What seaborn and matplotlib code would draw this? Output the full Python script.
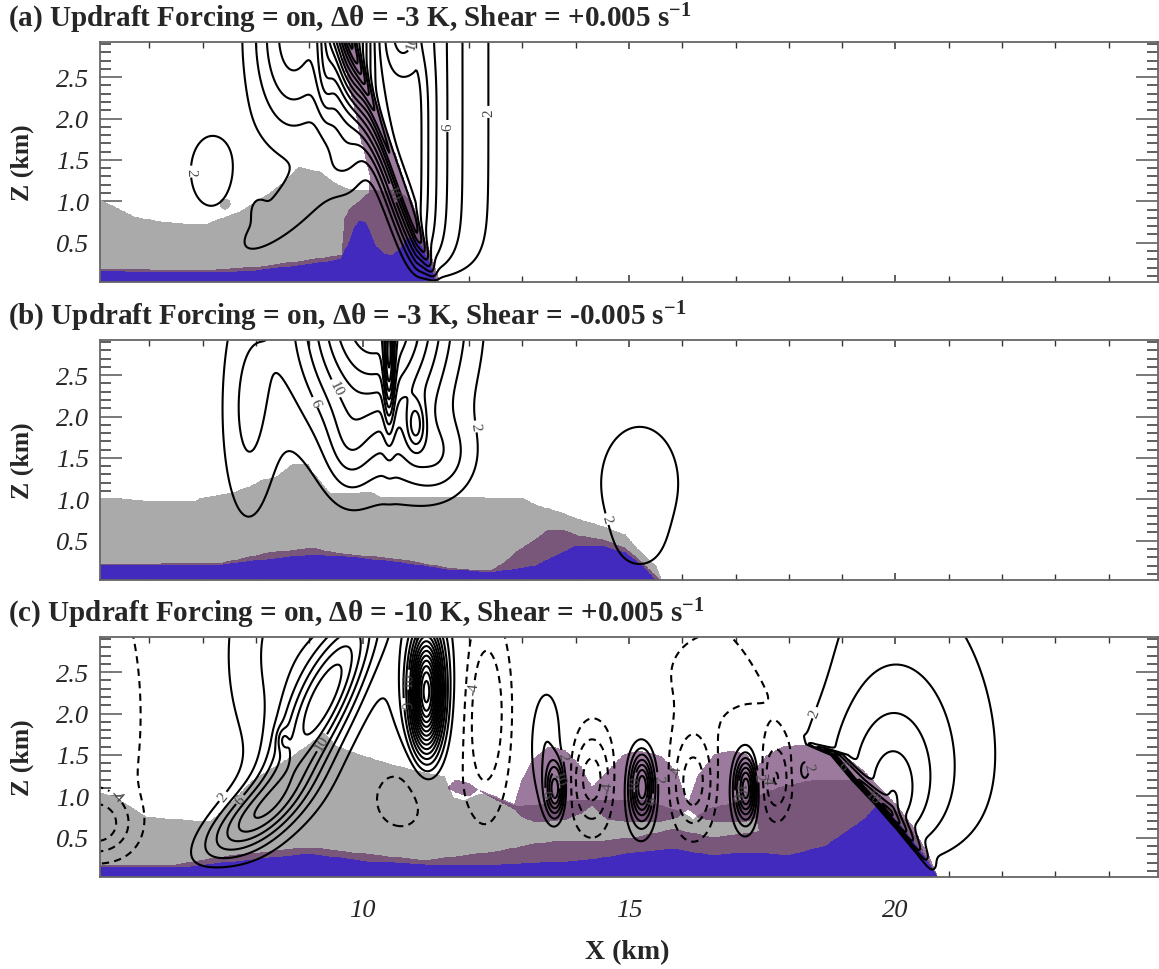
import numpy as np
import matplotlib
matplotlib.use("Agg")
import matplotlib.pyplot as plt
from matplotlib.ticker import MultipleLocator, FixedLocator
import seaborn as sns

sns.set_theme(style="ticks")
plt.rcParams["font.family"] = ["Liberation Serif", "DejaVu Serif"]
plt.rcParams["mathtext.fontset"] = "custom"
plt.rcParams["mathtext.rm"] = "Liberation Serif"
plt.rcParams["mathtext.bf"] = "Liberation Serif:bold"
plt.rcParams["mathtext.it"] = "Liberation Serif:italic"

GRAY = "#AAAAAA"
PURPLE = "#551D59"
PURPLE_ALPHA = 0.59
BLUE = "#422ABE"

titles = [
    r"(a) Updraft Forcing = on, Δθ = -3 K, Shear = +0.005 s$^{\mathbf{-1}}$",
    r"(b) Updraft Forcing = on, Δθ = -3 K, Shear = -0.005 s$^{\mathbf{-1}}$",
    r"(c) Updraft Forcing = on, Δθ = -10 K, Shear = +0.005 s$^{\mathbf{-1}}$",
]

# ---------------- panel (a): cloud / rain / cold-pool outlines (km) ----------------
a_gray_x = [5.07, 5.35, 5.7, 6.2, 6.6, 7.1, 7.7, 8.2, 8.6, 8.8, 9.2, 9.5, 9.7, 10.0, 10.3, 10.7, 10.9, 11.0, 11.1, 11.2, 11.3, 11.38]
a_gray_z = [1.01, 0.93, 0.81, 0.75, 0.73, 0.73, 0.87, 1.07, 1.27, 1.41, 1.35, 1.21, 1.15, 1.13, 1.12, 1.10, 1.0, 0.82, 0.64, 0.45, 0.26, 0.05]
a_gray_patch = [7.42, 0.97, 0.1, 0.06]  # detached cloud fragment: x, z, half-width, half-height
a_purple_low_x = [5.07, 6.0, 7.0, 8.0, 8.8, 9.3, 9.65]
a_purple_low_z = [0.18, 0.17, 0.16, 0.20, 0.27, 0.32, 0.35]
a_purple_band_z = [0.02, 0.25, 0.5, 0.8, 0.9, 1.0, 1.1, 1.3, 1.6, 2.0, 2.4, 2.95]
a_purple_band_xl = [9.63, 9.63, 9.64, 9.68, 9.75, 9.95, 10.12, 10.15, 10.03, 9.9, 9.75, 9.58]
a_purple_band_xr = [11.45, 11.33, 11.19, 11.02, 10.97, 10.91, 10.86, 10.75, 10.59, 10.37, 10.15, 9.86]
a_blue_x = [5.07, 6.0, 7.0, 8.0, 8.8, 9.3, 9.6, 9.75, 9.85, 9.95, 10.05, 10.15, 10.25, 10.4, 10.55, 10.7, 10.85, 10.95, 11.1, 11.25, 11.37]
a_blue_z = [0.16, 0.14, 0.13, 0.16, 0.22, 0.26, 0.30, 0.50, 0.68, 0.76, 0.74, 0.60, 0.45, 0.36, 0.34, 0.42, 0.55, 0.55, 0.45, 0.25, 0.02]

# ---------------- panel (b) ----------------
b_gray_x = [5.07, 5.87, 6.88, 6.96, 7.55, 7.88, 8.13, 8.39, 8.68, 8.97, 9.06, 9.22, 9.39, 9.81, 10.14, 10.31, 11.57, 13.0, 13.24, 13.66, 14.08, 14.5, 14.92, 15.17, 15.5, 15.62]
b_gray_z = [1.02, 0.98, 0.98, 1.01, 1.07, 1.15, 1.23, 1.27, 1.42, 1.43, 1.32, 1.20, 1.07, 1.07, 1.09, 1.03, 1.03, 1.01, 0.93, 0.85, 0.75, 0.67, 0.57, 0.39, 0.19, 0.0]
b_purple_x = [5.07, 7.38, 8.22, 9.06, 9.48, 10.73, 11.57, 12.4, 12.66, 12.91, 13.24, 13.5, 13.75, 14.08, 14.5, 14.92, 15.25, 15.5, 15.6]
b_purple_z = [0.21, 0.23, 0.35, 0.41, 0.35, 0.27, 0.17, 0.13, 0.23, 0.37, 0.51, 0.63, 0.63, 0.55, 0.51, 0.41, 0.23, 0.07, 0.0]
b_blue_x = [5.07, 7.38, 8.22, 9.06, 9.9, 10.73, 11.57, 12.4, 13.24, 13.75, 14.0, 14.5, 14.92, 15.25, 15.42, 15.5]
b_blue_z = [0.20, 0.21, 0.27, 0.33, 0.29, 0.23, 0.15, 0.11, 0.19, 0.35, 0.43, 0.43, 0.35, 0.19, 0.07, 0.0]

# ---------------- panel (c) ----------------
c_gray_x = [5.07, 5.35, 5.93, 6.8, 7.16, 7.52, 7.96, 8.69, 9.05, 9.27, 9.49, 9.85, 10.43, 11.16, 11.52, 11.62, 11.7, 11.9, 12.24, 12.6, 12.9, 13.3, 14.0, 14.6, 15.3, 16.0, 16.2, 16.5, 17.2, 17.8, 18.5, 19.2, 19.7, 20.2, 20.8]
c_gray_z = [1.04, 0.99, 0.75, 0.70, 0.70, 0.91, 1.20, 1.48, 1.65, 1.77, 1.61, 1.52, 1.40, 1.28, 1.24, 1.10, 0.98, 0.95, 1.03, 0.95, 0.87, 0.90, 0.95, 0.95, 0.95, 0.80, 0.72, 0.85, 0.95, 1.10, 1.20, 1.20, 1.0, 0.70, 0.0]
c_purple_low_x = [5.07, 6.5, 7.5, 8.98, 10.07, 11.16, 12.6, 13.2, 13.7, 14.4, 15.12, 15.84, 16.56, 17.27, 17.6]
c_purple_low_z = [0.17, 0.17, 0.28, 0.38, 0.30, 0.22, 0.34, 0.42, 0.46, 0.45, 0.50, 0.60, 0.50, 0.55, 0.60]
c_purple_up_x = [11.6, 11.75, 12.0, 12.15, 12.85, 13.0, 13.2, 13.5, 13.8, 14.1, 14.3, 14.6, 14.9, 15.2, 15.6, 15.9, 16.1, 16.3, 16.6, 16.9, 17.2, 17.4, 17.6, 17.9, 18.3, 18.7, 19.1, 19.4, 19.7, 20.0, 20.3, 20.6, 20.8]
c_purple_up_top = [1.10, 1.20, 1.15, 1.08, 0.90, 1.20, 1.45, 1.60, 1.55, 1.35, 1.10, 1.30, 1.50, 1.55, 1.48, 1.28, 0.90, 1.25, 1.50, 1.55, 1.50, 1.35, 1.50, 1.60, 1.62, 1.58, 1.45, 1.30, 1.10, 0.90, 0.65, 0.30, 0.0]
c_purple_up_bot = [1.10, 1.05, 1.00, 1.08, 0.85, 0.75, 0.70, 0.70, 0.72, 0.80, 0.90, 0.72, 0.70, 0.70, 0.70, 0.75, 0.85, 0.75, 0.70, 0.70, 0.70, 0.75, 0.0, 0.0, 0.0, 0.0, 0.0, 0.0, 0.0, 0.0, 0.0, 0.0, 0.0]
c_blue_x = [5.07, 6.5, 7.5, 8.98, 10.07, 11.16, 12.6, 13.69, 14.4, 15.12, 15.84, 16.56, 17.27, 17.99, 18.7, 19.42, 19.71, 19.9, 20.14, 20.5, 20.8]
c_blue_z = [0.14, 0.13, 0.20, 0.30, 0.21, 0.17, 0.17, 0.20, 0.24, 0.32, 0.36, 0.28, 0.32, 0.28, 0.40, 0.72, 0.92, 0.78, 0.60, 0.30, 0.0]

# ---------------- vertical velocity elements (m/s) ----------------
# gaussian cells: x0, z0, sx, sz, tilt (deg), amplitude
a_cells = [
    (9.75, 2.95, 0.3, 0.9, 0, 12.0),
    (8.7, 3.0, 0.55, 0.85, 0, 9.0),
    (9.3, 2.6, 0.12, 0.45, 0, 4.0),
    (10.75, 3.0, 0.3, 0.35, 0, -4.0),
    (8.6, 0.88, 0.9, 0.23, 29, 3.0),
    (8.05, 0.9, 0.1, 0.1, 0, 1.5),
    (7.15, 1.36, 0.45, 0.5, 0, 2.8),
]
b_cells = [
    (10.2, 3.3, 1.0, 1.1, 0, 18.0),
    (7.85, 2.0, 0.38, 1.0, 0, 4.0),
    (10.5, 2.6, 0.07, 0.5, 0, 10.0),
    (11.0, 1.9, 0.12, 0.2, 0, 6.0),
    (11.4, 1.5, 0.5, 0.35, 0, 4.0),
    (9.75, 1.6, 0.3, 0.4, 0, 3.0),
    (15.2, 1.2, 0.8, 0.75, 0, 3.0),
    (15.2, 0.45, 0.3, 0.3, -40, 1.8),
]
c_cells = [
    (5.0, 0.65, 0.45, 0.25, 0, -5.5),
    (5.0, 2.0, 0.8, 1.6, 0, -3.5),
    (7.9, 0.72, 0.75, 0.25, 25, 9.0),
    (9.3, 2.2, 1.1, 0.32, 50, 12.0),
    (8.7, 2.7, 0.9, 1.1, 0, 5.0),
    (8.5, 1.69, 0.08, 0.1, 0, 3.0),
    (11.2, 2.25, 0.2, 0.5, 0, 26.0),
    (11.2, 2.4, 0.45, 0.7, 0, 5.0),
    (10.75, 1.0, 0.55, 0.38, 0, -3.5),
    (12.3, 2.0, 0.35, 0.9, 0, -6.0),
    (16.8, 2.5, 1.2, 0.6, 0, -2.8),
    (13.45, 1.6, 0.25, 0.55, 0, 4.0),
    (13.62, 1.08, 0.12, 0.22, 0, 12.0),
    (14.3, 1.2, 0.3, 0.45, 0, -7.0),
    (16.2, 1.15, 0.3, 0.45, 0, -7.0),
    (17.75, 1.2, 0.22, 0.35, 0, -6.0),
    (15.25, 1.12, 0.14, 0.26, 0, 12.0),
    (15.2, 1.05, 0.25, 0.45, 0, 4.0),
    (17.2, 1.1, 0.13, 0.25, 0, 12.0),
    (17.15, 1.1, 0.22, 0.4, 0, 4.0),
    (18.28, 1.32, 0.12, 0.15, 0, 3.0),
]
# gust-front updrafts: front surface (z, x), then amplitude, anchor x, decay length, anchor z,
# z-stretch, ridge amplitude, ridge width, ridge top, decay behind the front, one-sided flag, ground depth
a_front_z = [0.06, 2.95]
a_front_x = [11.34, 9.76]
a_front = (14.0, 11.0, 0.7, 1.0, 50.0, 4.0, 0.1, 3.0, 0.35, True, 0.25)
b_front_z = [0.0]
b_front_x = [0.0]
b_front = None
c_front_z = [0.0, 0.3, 0.6, 0.9, 1.2, 1.5, 1.63, 2.95]
c_front_x = [20.8, 20.5, 20.15, 19.75, 19.3, 18.9, 18.4, 17.0]
c_front = (15.0, 19.95, 1.05, 0.85, 1.3, 7.0, 0.15, 1.5, 0.1, False, 0.7)
ground_depth = [0.12, 0.15, 0.15]

xg = np.arange(5.0, 25.0, 0.02)
zg = np.arange(0.0, 3.0, 0.01)
X, Z = np.meshgrid(xg, zg)


def cell(x0, z0, sx, sz, ang, amp):
    t = np.deg2rad(ang)
    dx, dz = X - x0, Z - z0
    u = dx * np.cos(t) + dz * np.sin(t)
    v = -dx * np.sin(t) + dz * np.cos(t)
    return amp * np.exp(-0.5 * ((u / sx) ** 2 + (v / sz) ** 2))


def front(fz, fx, p):
    amp, xa, lr, cz, kz, ridge, rw, rtop, ll, one_sided, hf = p
    xf = np.interp(Z, fz, fx)
    dxa = np.maximum(X - xa, 0) if one_sided else X - xa
    d = np.sqrt(dxa ** 2 + ((Z - cz) / kz) ** 2)
    rcap = np.exp(-(np.maximum(Z - rtop, 0) / 0.12) ** 2)
    core = amp * np.exp(-d / lr) + ridge * rcap * np.exp(-((X - xf) / rw) ** 2)
    behind = np.exp(-(np.maximum(xf - X, 0) / ll) ** 2)
    return core * behind * (1 - np.exp(-Z / hf))


def build(cells, fz, fx, fp, hz):
    w = np.zeros_like(X)
    for c in cells:
        w += cell(*c)
    w *= 1 - np.exp(-Z / hz)
    if fp is not None:
        w += front(fz, fx, fp)
    return w


def prof(xs, zs):
    return np.interp(X, xs, zs, left=0, right=0)


def shade(ax, mask, color, alpha=1.0):
    ax.contourf(X, Z, mask.astype(float), levels=[0.5, 1.5], colors=[color], alpha=alpha,
                antialiased=False)


px, pz, pw, ph = a_gray_patch
a_gray = (Z < prof(a_gray_x, a_gray_z)) | (((X - px) / pw) ** 2 + ((Z - pz) / ph) ** 2 < 1)
a_purple = (Z < prof(a_purple_low_x, a_purple_low_z)) | (
    (X >= np.interp(Z, a_purple_band_z, a_purple_band_xl)) & (X <= np.interp(Z, a_purple_band_z, a_purple_band_xr)))
a_blue = Z < prof(a_blue_x, a_blue_z)

b_gray = Z < prof(b_gray_x, b_gray_z)
b_purple = Z < prof(b_purple_x, b_purple_z)
b_blue = Z < prof(b_blue_x, b_blue_z)

c_gray = Z < prof(c_gray_x, c_gray_z)
c_purple = (Z < prof(c_purple_low_x, c_purple_low_z)) | (
    (Z < prof(c_purple_up_x, c_purple_up_top)) & (Z >= np.interp(X, c_purple_up_x, c_purple_up_bot, left=9, right=9)))
c_blue = Z < prof(c_blue_x, c_blue_z)

panels = [
    (a_gray, a_purple, a_blue, build(a_cells, a_front_z, a_front_x, a_front, ground_depth[0])),
    (b_gray, b_purple, b_blue, build(b_cells, b_front_z, b_front_x, b_front, ground_depth[1])),
    (c_gray, c_purple, c_blue, build(c_cells, c_front_z, c_front_x, c_front, ground_depth[2])),
]

pos_levels = np.arange(2, 42, 2)
neg_levels = -np.arange(2, 22, 2)[::-1]

fig = plt.figure(figsize=(11.59, 9.70), dpi=100)
tops = [43, 341, 638]
for i, (gm, pm, bm, w) in enumerate(panels):
    top = tops[i]
    ax = fig.add_axes([100 / 1159, 1 - (top + 240) / 970, 1058 / 1159, 240 / 970])
    shade(ax, gm, GRAY)
    shade(ax, pm, PURPLE, PURPLE_ALPHA)
    shade(ax, bm, BLUE)
    cs = ax.contour(X, Z, np.clip(w, -40, 41), levels=pos_levels, colors="black",
                    linewidths=1.5, linestyles="solid")
    ax.clabel(cs, levels=[2, 6, 10], fmt="%d", fontsize=11, inline=True, inline_spacing=2, colors="#444444")
    if w.min() < -2:
        cn = ax.contour(X, Z, w, levels=neg_levels, colors="black", linewidths=1.5,
                        linestyles=[(0, (3.5, 2.5))])
        ax.clabel(cn, levels=[-4], fmt="%d", fontsize=11, inline=True, inline_spacing=2, colors="#444444")
    ax.set_xlim(5.075, 24.925)
    ax.set_ylim(0.025, 2.925)
    ax.yaxis.set_major_locator(FixedLocator([0.5, 1.0, 1.5, 2.0, 2.5]))
    ax.yaxis.set_minor_locator(MultipleLocator(0.1))
    ax.xaxis.set_major_locator(FixedLocator([10, 15, 20]))
    ax.xaxis.set_minor_locator(MultipleLocator(1))
    ax.tick_params(axis="y", which="major", direction="in", length=16, width=1.1, left=True, right=True,
                   color="#555555", labelsize=19, pad=8)
    ax.tick_params(axis="y", which="minor", direction="in", length=8, width=1.1, left=True, right=True,
                   color="#333333")
    ax.tick_params(axis="x", which="major", direction="in", length=5, width=1.1, bottom=True, top=True,
                   color="#333333", labelsize=19, pad=16)
    ax.tick_params(axis="x", which="minor", direction="in", length=4, width=1.0, bottom=True, top=True,
                   color="#333333")
    ax.set_yticklabels(["0.5", "1.0", "1.5", "2.0", "2.5"], fontstyle="italic")
    if i < 2:
        ax.set_xticklabels([])
    else:
        ax.set_xticklabels(["10", "15", "20"], fontstyle="italic")
    for s in ax.spines.values():
        s.set_color("#666666")
        s.set_linewidth(1.3)
    ax.set_ylabel("Z (km)", fontsize=18.5, fontweight="bold", va="center")
    ax.yaxis.set_label_coords(-(100 - 22) / 1058, 0.5)
    fig.text(8 / 1159, 1 - (top - 24) / 970, titles[i], fontsize=21, fontweight="bold",
             ha="left", va="center")

fig.text(627 / 1159, 1 - 953 / 970, "X (km)", fontsize=20, fontweight="bold", ha="center", va="center")
fig.savefig("out.png", dpi=100)
